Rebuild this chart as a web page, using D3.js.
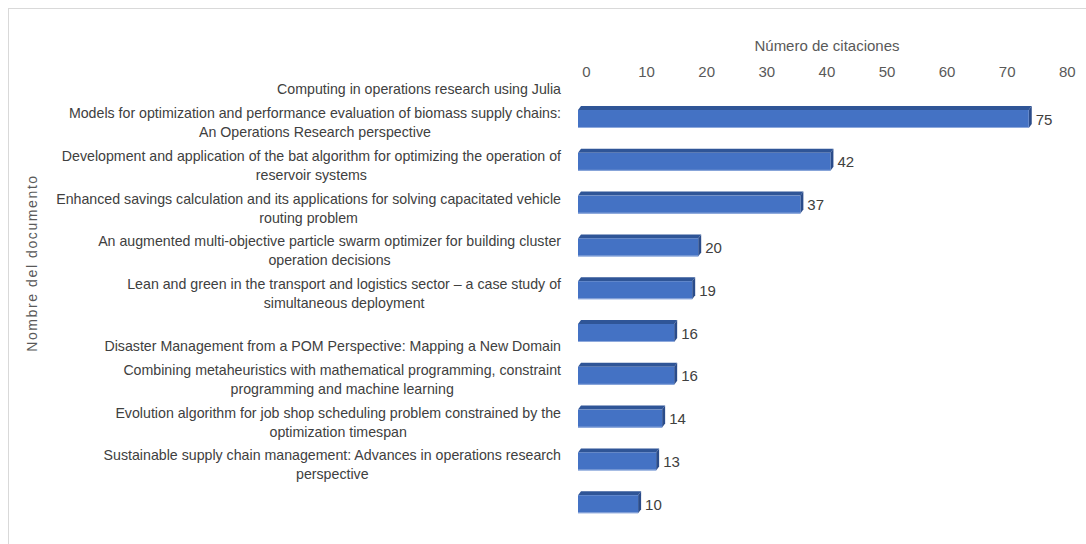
<!DOCTYPE html>
<html><head><meta charset="utf-8">
<script src="https://cdn.jsdelivr.net/npm/d3@7"></script>
<style>
html,body{margin:0;padding:0;background:#fff;}
svg{display:block;}
</style></head>
<body>
<script>
const categories = [
  "Computing in operations research using Julia",
  "Models for optimization and performance evaluation of biomass supply chains:\nAn Operations Research perspective",
  "Development and application of the bat algorithm for optimizing the operation of\nreservoir systems",
  "Enhanced savings calculation and its applications for solving capacitated vehicle\nrouting problem",
  "An augmented multi-objective particle swarm optimizer for building cluster\noperation decisions",
  "Lean and green in the transport and logistics sector \u2013 a case study of\nsimultaneous deployment",
  "Disaster Management from a POM Perspective: Mapping a New Domain",
  "Combining metaheuristics with mathematical programming, constraint\nprogramming and machine learning",
  "Evolution algorithm for job shop scheduling problem constrained by the\noptimization timespan",
  "Sustainable supply chain management: Advances in operations research\nperspective"
];
const citations = [75, 42, 37, 20, 19, 16, 16, 14, 13, 10];
const xTicks = [0, 10, 20, 30, 40, 50, 60, 70, 80];
const xTitle = "Número de citaciones";
const yTitle = "Nombre del documento";

const W = 1086, H = 544;
const narrow = "'Liberation Sans Narrow','Arial Narrow','Liberation Sans',sans-serif";
const svg = d3.select("body").append("svg").attr("width", W).attr("height", H);

// chart area border
svg.append("rect").attr("x", 8.5).attr("y", 8.5).attr("width", 1200).attr("height", 700)
  .attr("fill", "none").attr("stroke", "#d9d9d9").attr("stroke-width", 1);

const x = d3.scaleLinear().domain([0, 80]).range([578, 578 + 80 * 6.01]);
const y = d3.scaleBand().domain(d3.range(categories.length)).range([97.6, 525.6]).paddingInner(0.58).paddingOuter(0.29);
const depthX = 3, depthY = 4;

// axis (top)
const axis = d3.axisTop(x).tickValues(xTicks).tickSize(0).tickPadding(0);
const gx = svg.append("g").attr("transform", "translate(8,77)").call(axis);
gx.select(".domain").remove();
gx.selectAll("text").attr("font-family", narrow).attr("font-size", 15).attr("fill", "#595959");

svg.append("text").attr("x", 827).attr("y", 51).attr("text-anchor", "middle")
  .attr("font-family", narrow).attr("font-size", 15).attr("fill", "#595959").text(xTitle);

svg.append("text").attr("transform", "translate(37,263) rotate(-90)").attr("text-anchor", "middle")
  .attr("font-family", "'Liberation Sans',Arial,sans-serif").attr("font-size", 14).attr("letter-spacing", 1.6)
  .attr("fill", "#595959").text(yTitle);

// bars
const bars = svg.append("g");
citations.forEach((v, i) => {
  const x0 = x(0), x1 = x(v), t = y(i), b = y(i) + y.bandwidth();
  const g = bars.append("g");
  g.append("polygon").attr("points", [[x0, t], [x0 + depthX, t - depthY], [x1 + depthX, t - depthY], [x1, t]].join(" "))
    .attr("fill", "#2f5597");
  g.append("polygon").attr("points", [[x1, t], [x1 + depthX, t - depthY], [x1 + depthX, b - depthY], [x1, b]].join(" "))
    .attr("fill", "#2b4c8a");
  g.append("rect").attr("x", x0).attr("y", t).attr("width", x1 - x0).attr("height", b - t).attr("fill", "#4472c4");
  g.append("line").attr("x1", x0).attr("x2", x1).attr("y1", b - 0.5).attr("y2", b - 0.5).attr("stroke", "#8faadc").attr("stroke-width", 1);
  g.append("text").attr("x", x1 + 7).attr("y", (t + b) / 2 + 5.5).attr("font-family", narrow).attr("font-size", 15)
    .attr("fill", "#404040").text(v);
});

// category labels (bottom-aligned, one band above each bar, centered block right-aligned at 561)
const step = y.step();
const labels = svg.append("g");
categories.forEach((c, i) => {
  const lines = c.split("\n");
  const cy = y(i) + y.bandwidth() / 2 - step;
  const t = labels.append("text").attr("font-family", narrow).attr("font-size", 14.2).attr("fill", "#404040")
    .attr("text-anchor", "middle");
  const spans = lines.map((ln, k) => t.append("tspan").text(ln)
    .attr("y", cy + 13 + 5 - (lines.length - 1 - k) * 19));
  const maxW = d3.max(spans, s => s.node().getComputedTextLength());
  spans.forEach(s => s.attr("x", 561 - maxW / 2));
});
</script>
</body></html>
